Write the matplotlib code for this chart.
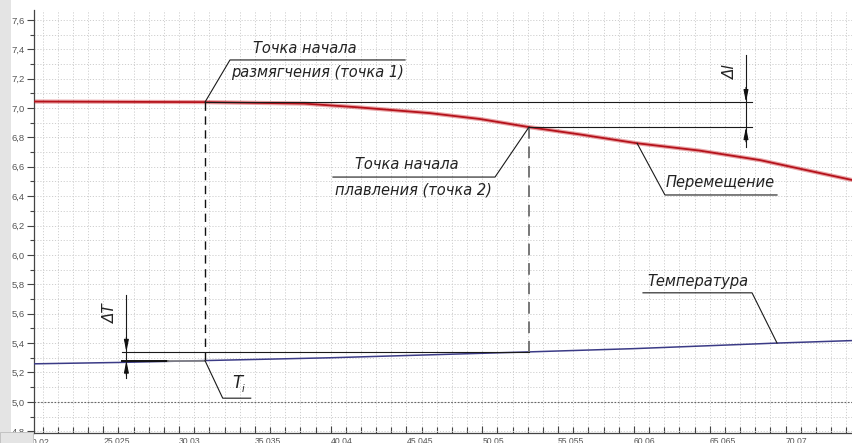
import numpy as np
import matplotlib
matplotlib.use("Agg")
import matplotlib.pyplot as plt
from matplotlib.ticker import MultipleLocator, FixedLocator, FuncFormatter
from matplotlib.patches import Rectangle

# ---------------- data ----------------
disp_x = [20.5, 26.1, 31.74, 38.3, 41.8, 46.6, 49.9, 53.13, 56.5, 60.27, 64.4, 68.4, 74.46]
disp_y = [7.044, 7.042, 7.040, 7.030, 7.005, 6.965, 6.925, 6.870, 6.82, 6.76, 6.71, 6.645, 6.51]

temp_x = [20.5, 26.0, 31.74, 40.0, 53.13, 60.0, 69.5, 74.46]
temp_y = [5.259, 5.268, 5.281, 5.300, 5.340, 5.362, 5.400, 5.417]

xtick_vals = [25.025, 30.03, 35.035, 40.04, 45.045, 50.05, 55.055, 60.06, 65.065, 70.07]
xtick_labels = ["25.025", "30.03", "35.035", "40.04", "45.045", "50.05", "55.055", "60.06", "65.065", "70.07"]

soft_x = 31.74   # точка 1
melt_x = 53.13   # точка 2

# ---------------- figure ----------------
W, H = 852, 443
fig = plt.figure(figsize=(W / 100, H / 100), dpi=100)
fig.patch.set_facecolor("white")
ax = fig.add_axes([34 / W, 10 / H, 818 / W, 423 / H])
ax.set_xlim(20.45, 74.46)
ax.set_ylim(4.788, 7.667)

for s in ["top", "right"]:
    ax.spines[s].set_visible(False)
for s in ["left", "bottom"]:
    ax.spines[s].set_color("#444444")
    ax.spines[s].set_linewidth(0.9)

# ticks
ax.yaxis.set_major_locator(MultipleLocator(0.2))
ax.yaxis.set_minor_locator(MultipleLocator(0.1))
ax.yaxis.set_major_formatter(FuncFormatter(lambda v, p: f"{v:.1f}".replace(".", ",")))
ax.xaxis.set_major_locator(FixedLocator(xtick_vals))
ax.set_xticklabels(xtick_labels)
ax.xaxis.set_minor_locator(MultipleLocator(1.001))

ax.tick_params(axis="y", which="major", direction="out", length=5, width=0.8,
               color="#444444", labelcolor="#555555", pad=1.5, labelsize=6.8)
ax.tick_params(axis="y", which="minor", direction="out", length=3, width=0.8, color="#444444")
ax.tick_params(axis="x", which="major", direction="in", length=5, width=0.8,
               color="#444444", labelcolor="#555555", pad=3, labelsize=6.2)
ax.tick_params(axis="x", which="minor", direction="in", length=4, width=0.8, color="#444444")
for lab in ax.get_xticklabels():
    lab.set_horizontalalignment("left")
    lab.set_family(["Liberation Sans", "DejaVu Sans"])
for lab in ax.get_yticklabels():
    lab.set_family(["Liberation Sans", "DejaVu Sans"])

# grid
ax.grid(True, which="both", color="#cfcfcf", linestyle=(0, (1.2, 1.8)), linewidth=0.7)
ax.set_axisbelow(True)
ax.axhline(5.0, color="#666666", linestyle=(0, (1.5, 1.5)), linewidth=0.8, zorder=1)

# clipped first label "20.02"
clip_rect = Rectangle((34, 0), W, H, transform=None, visible=False)
fig.add_artist(clip_rect)
t0 = ax.text(20.02, -0.012, "20.02", transform=ax.get_xaxis_transform(), ha="left", va="top",
             fontsize=6.2, color="#555555", family=["Liberation Sans", "DejaVu Sans"], clip_on=True)
t0.set_clip_path(clip_rect)

# ---------------- curves ----------------
ax.plot(disp_x, disp_y, color="#d0353b", lw=3.0, alpha=0.45, zorder=3, solid_capstyle="butt")
ax.plot(disp_x, disp_y, color="#b5121b", lw=1.3, zorder=4)
ax.plot(temp_x, temp_y, color="#3b3b86", lw=1.1, zorder=4)

soft_y = np.interp(soft_x, disp_x, disp_y)
melt_y = np.interp(melt_x, disp_x, disp_y)
T1 = np.interp(soft_x, temp_x, temp_y)
T2 = np.interp(melt_x, temp_x, temp_y)

k = dict(color="#1a1a1a", lw=0.8, zorder=5)
# dashed verticals
ax.plot([soft_x, soft_x], [soft_y, T1], color="#111111", lw=1.0, ls=(0, (6, 4)), zorder=5)
ax.plot([melt_x, melt_x], [melt_y, T2], color="#777777", lw=1.4, ls=(0, (6, 4)), zorder=5)

# Δl dimension
dl_x = 67.46
ax.plot([soft_x, 67.86], [soft_y, soft_y], **k)
ax.plot([melt_x, 67.86], [melt_y, melt_y], **k)
ax.plot([dl_x, dl_x], [7.361, 6.735], **k)
arr = dict(arrowstyle="-|>,head_length=0.7,head_width=0.14", color="#111111", lw=0.8,
           shrinkA=0, shrinkB=0)
ax.annotate("", xy=(dl_x, soft_y), xytext=(dl_x, soft_y + 0.1), arrowprops=arr, zorder=6)
ax.annotate("", xy=(dl_x, melt_y), xytext=(dl_x, melt_y - 0.1), arrowprops=arr, zorder=6)

# ΔT dimension
dT_x = 26.55
ax.plot([26.24, melt_x], [T2, T2], **k)
ax.plot([26.24, 29.3], [T1, T1], color="#111111", lw=1.4, zorder=5)
ax.plot([29.3, soft_x], [T1, T1], color="#888888", lw=1.2, zorder=5)
ax.plot([dT_x, dT_x], [5.728, 5.163], **k)
ax.annotate("", xy=(dT_x, T2), xytext=(dT_x, T2 + 0.1), arrowprops=arr, zorder=6)
ax.annotate("", xy=(dT_x, T1), xytext=(dT_x, T1 - 0.1), arrowprops=arr, zorder=6)

# leaders
ax.plot([soft_x, 33.39, 44.95], [soft_y, 7.327, 7.327], **k)
ax.plot([melt_x, 50.89, 40.19], [melt_y, 6.530, 6.530], **k)
px_x = 60.27
ax.plot([px_x, 62.11, 69.51], [np.interp(px_x, disp_x, disp_y), 6.408, 6.408], **k)
tx = 69.51
ax.plot([tx, 67.86, 60.66], [np.interp(tx, temp_x, temp_y), 5.742, 5.742], **k)
ax.plot([soft_x, 32.91, 34.76], [T1, 5.025, 5.025], **k)

# ---------------- texts ----------------
tf = dict(family=["Liberation Sans Narrow", "DejaVu Sans"], style="italic",
          color="#222222", ha="center", va="center", zorder=7)
ax.text(38.34, 7.408, "Точка начала", fontsize=10.5, **tf)
ax.text(39.17, 7.245, "размягчения (точка 1)", fontsize=10.5, **tf)
ax.text(45.08, 6.615, "Точка начала", fontsize=10.5, **tf)
ax.text(45.51, 6.445, "плавления (точка 2)", fontsize=10.5, **tf)
ax.text(65.75, 6.493, "Перемещение", fontsize=10.5, **tf)
ax.text(64.26, 5.820, "Температура", fontsize=10.5, **tf)
ax.text(66.41, 7.245, "Δl", fontsize=11, rotation=90, **tf)
ax.text(25.53, 5.606, "ΔT", fontsize=11, rotation=90, **tf)
ax.text(33.88, 5.125, "T", fontsize=12, **tf)
ax.text(34.25, 5.085, "i", fontsize=7, **tf)

# left gray strip and bottom-left box
fig.add_artist(Rectangle((0, 0), 11 / W, 1, transform=fig.transFigure,
                         facecolor="#e4e4e4", edgecolor="none", zorder=-1))
fig.add_artist(Rectangle((0, 0), 33 / W, 11 / H, transform=fig.transFigure,
                         facecolor="#e4e4e4", edgecolor="#bdbdbd", lw=0.6, zorder=10))

fig.savefig("out.png", dpi=100)
